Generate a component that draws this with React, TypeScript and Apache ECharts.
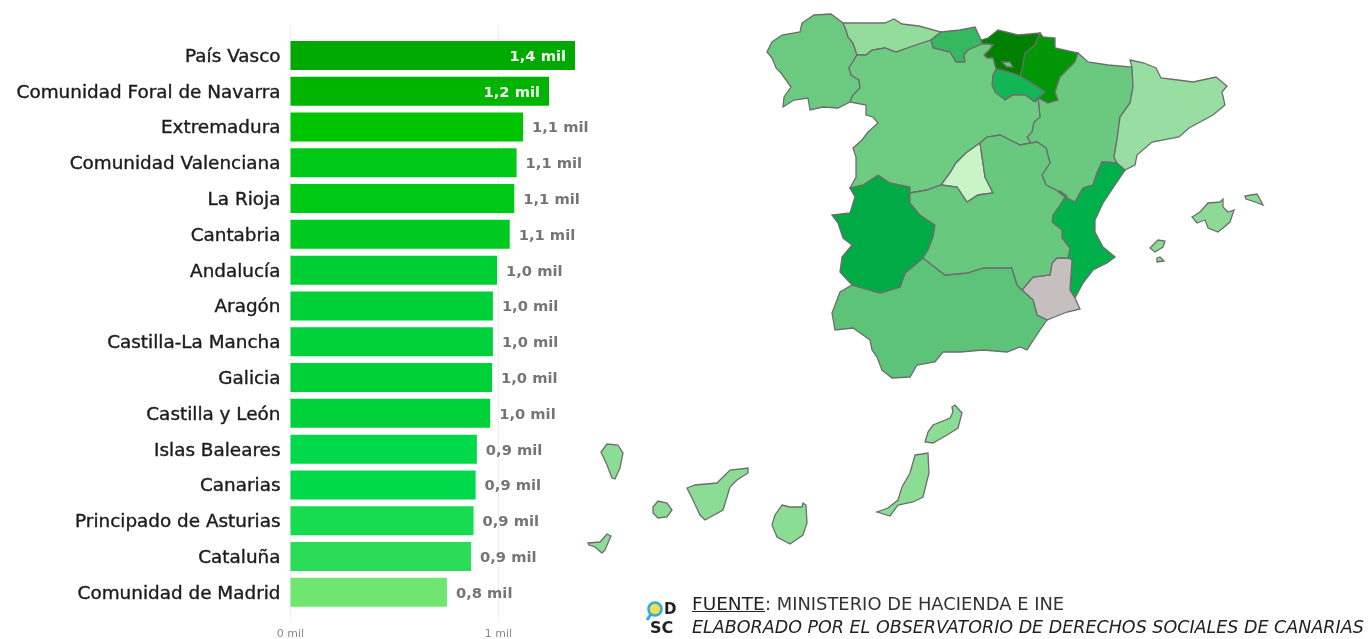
import React, { useEffect, useRef } from "react";
import * as echarts from "echarts";

const categories = ["País Vasco","Comunidad Foral de Navarra","Extremadura","Comunidad Valenciana","La Rioja","Cantabria","Andalucía","Aragón","Castilla-La Mancha","Galicia","Castilla y León","Islas Baleares","Canarias","Principado de Asturias","Cataluña","Comunidad de Madrid"];
const values = [1.368,1.243,1.118,1.087,1.076,1.054,0.993,0.973,0.973,0.969,0.96,0.896,0.89,0.88,0.868,0.752];
const barColors = ["#00a900","#00b400","#00c400","#00c818","#00c916","#00c920","#00cf34","#00d038","#00d03a","#00d038","#00d03a","#00d94a","#00d94a","#17dc52","#2adc57","#6ee670"];
const insideLabels = ["País Vasco","Comunidad Foral de Navarra"];
const axisTicks = [0, 1];

const mapColors: Record<string, string> = {
  "País Vasco":"#008000","Comunidad Foral de Navarra":"#009605","Extremadura":"#00aa44","Comunidad Valenciana":"#00b14b","La Rioja":"#14b554","Cantabria":"#35b85f","Andalucía":"#5cc378","Aragón":"#6ac97e","Castilla-La Mancha":"#68c97e","Galicia":"#6cca80","Castilla y León":"#6ecb82","Islas Baleares":"#8cda96","Canarias":"#8bdc95","Principado de Asturias":"#94dc9c","Cataluña":"#98dea2","Comunidad de Madrid":"#c9f4c6","Región de Murcia":"#c5bfbf",
};

type Ring = number[][];
const galicia: Ring = [[802,23],[814,15],[831,14],[843,23],[846,30],[848,37],[853,43],[857,55],[849,68],[851,75],[859,80],[860,88],[853,95],[850,102],[838,108],[823,107],[810,110],[808,98],[794,100],[783,107],[784,97],[791,87],[781,73],[776,68],[772,58],[767,52],[772,42],[782,35],[800,32]];
const asturias: Ring = [[843,23],[864,23],[885,23],[894,19],[902,24],[919,26],[941,32],[931,40],[916,45],[896,52],[885,48],[872,50],[866,55],[857,55],[853,43],[848,37],[846,30]];
const cantabria: Ring = [[941,32],[960,30],[975,27],[981,40],[982,44],[968,50],[964,55],[965,62],[956,62],[950,52],[933,48],[931,40]];
const paisVasco: Ring = [[981,40],[988,38],[998,30],[1018,35],[1040,33],[1035,45],[1025,53],[1022,70],[1020,76],[1005,71],[996,69],[993,58],[987,58],[984,55],[989,50],[993,45],[988,44],[982,44]];
const navarra: Ring = [[1040,33],[1043,37],[1055,38],[1055,48],[1078,53],[1075,62],[1060,77],[1055,92],[1058,100],[1048,103],[1038,98],[1045,92],[1035,85],[1020,76],[1022,70],[1025,53],[1035,45]];
const rioja: Ring = [[996,69],[1005,71],[1020,76],[1035,85],[1045,92],[1038,98],[1035,102],[1025,95],[1013,95],[1005,100],[995,92],[992,85],[993,75]];
const aragon: Ring = [[1038,98],[1048,103],[1058,100],[1055,92],[1060,77],[1075,62],[1078,53],[1088,62],[1108,65],[1132,67],[1133,87],[1130,103],[1120,117],[1117,140],[1114,157],[1117,163],[1102,162],[1097,173],[1093,185],[1083,188],[1075,202],[1065,197],[1056,190],[1046,185],[1042,175],[1050,163],[1046,148],[1037,142],[1031,143],[1027,137],[1032,132],[1034,122],[1040,117]];
const valencia: Ring = [[1102,162],[1117,163],[1125,170],[1113,188],[1103,203],[1095,220],[1095,232],[1103,247],[1115,257],[1107,263],[1093,270],[1083,283],[1075,298],[1070,290],[1072,260],[1068,258],[1070,248],[1062,238],[1062,230],[1052,222],[1053,215],[1060,205],[1065,197],[1075,202],[1083,188],[1093,185],[1097,173]];
const ademuz: Ring = [[1055,192],[1060,191],[1067,196],[1064,199],[1058,197]];
const murcia: Ring = [[1057,258],[1068,258],[1072,260],[1070,290],[1075,298],[1080,309],[1067,312],[1047,320],[1037,315],[1033,300],[1022,290],[1033,277],[1050,275],[1052,263]];
const andalucia: Ring = [[852,285],[870,290],[880,293],[900,287],[905,273],[923,258],[945,275],[967,273],[983,268],[1012,268],[1017,285],[1022,290],[1033,300],[1037,315],[1047,320],[1040,330],[1027,350],[1020,347],[1007,352],[983,350],[960,352],[943,352],[935,362],[917,365],[910,377],[892,378],[882,370],[877,357],[872,350],[870,340],[853,328],[835,330],[832,313],[840,292]];
const extremadura: Ring = [[878,175],[890,183],[910,187],[910,203],[920,215],[935,225],[933,237],[928,250],[923,258],[905,273],[900,287],[880,293],[870,290],[852,285],[840,272],[842,257],[852,245],[843,238],[838,223],[832,215],[850,213],[855,197],[850,188],[863,185]];
const cataluna: Ring = [[1130,60],[1144,63],[1156,68],[1161,78],[1178,80],[1193,82],[1216,77],[1227,86],[1222,92],[1225,105],[1213,115],[1189,128],[1179,137],[1152,142],[1137,155],[1135,165],[1125,170],[1117,163],[1114,157],[1117,140],[1120,117],[1130,103],[1133,87],[1132,67]];
const castillaLeon: Ring = [[857,55],[866,55],[872,50],[885,48],[896,52],[916,45],[931,40],[933,48],[950,52],[956,62],[965,62],[964,55],[968,50],[982,44],[988,44],[993,45],[989,50],[984,55],[987,58],[993,58],[996,69],[993,75],[992,85],[995,92],[1005,100],[1013,95],[1025,95],[1035,102],[1038,98],[1040,117],[1034,122],[1032,132],[1027,137],[1031,143],[1020,145],[1010,140],[1000,135],[987,137],[980,143],[966,153],[956,163],[950,173],[941,185],[927,190],[910,193],[910,187],[890,183],[878,175],[863,185],[850,188],[856,177],[856,157],[853,148],[862,140],[868,132],[878,123],[873,117],[866,115],[866,105],[850,102],[853,95],[860,88],[859,80],[851,75],[849,68]];
const trevino: Ring = [[1002,62],[1010,62],[1013,67],[1007,67]];
const madrid: Ring = [[980,143],[966,153],[956,163],[950,173],[941,185],[957,187],[967,202],[978,195],[993,193],[985,177],[983,163]];
const mancha: Ring = [[910,193],[927,190],[941,185],[957,187],[967,202],[978,195],[993,193],[985,177],[983,163],[980,143],[987,137],[1000,135],[1010,140],[1020,145],[1031,143],[1037,142],[1046,148],[1050,163],[1042,175],[1046,185],[1056,190],[1065,197],[1060,205],[1053,215],[1052,222],[1062,230],[1062,238],[1070,248],[1068,258],[1057,258],[1052,263],[1050,275],[1033,277],[1022,290],[1017,285],[1012,268],[983,268],[967,273],[945,275],[923,258],[928,250],[933,237],[935,225],[920,215],[910,203]];
const mallorca: Ring = [[1192,217],[1200,212],[1208,203],[1220,202],[1223,199],[1223,207],[1228,212],[1234,210],[1230,222],[1223,228],[1218,232],[1208,228],[1205,220],[1197,223]];
const menorca: Ring = [[1245,196],[1257,194],[1263,205],[1255,202],[1246,199]];
const ibiza: Ring = [[1150,248],[1158,240],[1165,241],[1163,247],[1155,252]];
const formentera: Ring = [[1157,258],[1160,257],[1164,261],[1157,262]];
const laPalma: Ring = [[601,452],[607,444],[618,445],[623,453],[620,468],[615,479],[612,478],[607,465]];
const elHierro: Ring = [[588,543],[600,542],[607,534],[611,536],[605,550],[602,553],[595,547],[589,545]];
const gomera: Ring = [[653,507],[658,501],[667,503],[672,510],[667,517],[658,518],[653,513]];
const tenerife: Ring = [[687,488],[695,485],[717,483],[723,477],[730,470],[748,468],[748,473],[737,480],[730,487],[727,497],[723,510],[705,520],[700,515],[692,498]];
const granCanaria: Ring = [[782,505],[790,507],[802,507],[803,503],[806,505],[807,523],[803,535],[790,544],[777,537],[772,525],[775,515]];
const fuerteventura: Ring = [[915,455],[928,453],[929,473],[923,497],[913,502],[898,505],[890,516],[877,512],[888,508],[898,500],[902,487],[910,473]];
const lanzarote: Ring = [[925,442],[928,432],[933,425],[950,418],[953,412],[952,407],[955,405],[962,413],[958,428],[947,435],[933,443]];

const shapes: [string, Ring[]][] = [
  ["Galicia",[galicia]],["Principado de Asturias",[asturias]],["Cantabria",[cantabria]],["País Vasco",[paisVasco]],
  ["Comunidad Foral de Navarra",[navarra]],["La Rioja",[rioja]],["Aragón",[aragon]],["Comunidad Valenciana",[valencia,ademuz]],
  ["Región de Murcia",[murcia]],["Andalucía",[andalucia]],["Extremadura",[extremadura]],["Cataluña",[cataluna]],
  ["Castilla y León",[castillaLeon,trevino]],["Comunidad de Madrid",[madrid]],["Castilla-La Mancha",[mancha]],
  ["Islas Baleares",[mallorca,menorca,ibiza,formentera]],
  ["Canarias",[laPalma,elHierro,gomera,tenerife,granCanaria,fuerteventura,lanzarote]],
];

const AXIS_LEFT = 290.5;
const PX_PER_UNIT = 208;
const AXIS_MAX = 1.5;
const fontFamily = "'DejaVu Sans', sans-serif";

export default function App() {
  const ref = useRef<HTMLDivElement>(null);
  useEffect(() => {
    if (!ref.current) return;
    const features = shapes.map(([name, rings]) => ({
      type: "Feature",
      properties: { name },
      geometry: {
        type: "MultiPolygon",
        coordinates: rings.map((r) => [[...r, r[0]].map(([x, y]) => [x, -y])]),
      },
    }));
    echarts.registerMap("spainRegions", { type: "FeatureCollection", features } as any);
    const all = shapes.flatMap(([, rings]) => rings.flat());
    const xs = all.map((p) => p[0]);
    const ys = all.map((p) => p[1]);
    const minX = Math.min(...xs), maxX = Math.max(...xs), minY = Math.min(...ys), maxY = Math.max(...ys);

    const chart = echarts.init(ref.current, undefined, { renderer: "svg" });
    const gridWidth = PX_PER_UNIT * AXIS_MAX;
    chart.setOption({
      animation: false,
      backgroundColor: "#ffffff",
      grid: [
        { left: AXIS_LEFT, width: gridWidth, top: 37.5, height: 572.7 },
        { left: AXIS_LEFT, width: gridWidth, top: 27, height: 593 },
      ],
      xAxis: [
        { gridIndex: 0, type: "value", min: 0, max: AXIS_MAX, show: false },
        {
          gridIndex: 1, type: "value", min: 0, max: AXIS_MAX, interval: axisTicks[1] - axisTicks[0],
          axisLine: { show: false }, axisTick: { show: false },
          axisLabel: { showMaxLabel: false, formatter: "{value} mil", color: "#8a8a8a", fontSize: 11, fontFamily, margin: 8 },
          splitLine: { show: true, showMaxLine: false, lineStyle: { color: "#e2e2e2", type: "dotted", width: 1 } },
        },
      ],
      yAxis: [
        {
          gridIndex: 0, type: "category", data: categories, inverse: true,
          axisLine: { show: false }, axisTick: { show: false },
          axisLabel: { color: "#1c1c1c", fontSize: 18.4, fontFamily, margin: 10, textBorderColor: "#1c1c1c", textBorderWidth: 0.4 },
        },
        { gridIndex: 1, type: "value", show: false, min: 0, max: 1 },
      ],
      series: [
        {
          type: "bar", xAxisIndex: 0, yAxisIndex: 0, barWidth: 29, z: 3,
          data: values.map((v, i) => {
            const inside = insideLabels.includes(categories[i]);
            return {
              value: v,
              itemStyle: { color: barColors[i] },
              label: { position: inside ? "insideRight" : "right", color: inside ? "#f2fff2" : "#757575" },
            };
          }),
          label: {
            show: true, distance: 9, fontSize: 14.7, fontWeight: "bold", fontFamily,
            formatter: (p: any) => p.value.toFixed(1).replace(".", ",") + " mil",
          },
          silent: true,
        },
        {
          type: "map", map: "spainRegions", aspectScale: 1, roam: false, silent: true,
          left: minX, top: minY, width: maxX - minX, height: maxY - minY,
          label: { show: false }, emphasis: { disabled: true }, select: { disabled: true },
          itemStyle: { borderColor: "#6d6d6d", borderWidth: 1.3 },
          data: Object.entries(mapColors).map(([name, color]) => ({
            name,
            value: values[categories.indexOf(name)],
            itemStyle: { areaColor: color },
          })),
        },
      ],
      graphic: [
        { type: "circle", shape: { cx: 655, cy: 609, r: 6.5 }, style: { fill: "#f4e04d", stroke: "#35a9e0", lineWidth: 2.5 } },
        { type: "line", shape: { x1: 651, y1: 614, x2: 647, y2: 620 }, style: { stroke: "#35a9e0", lineWidth: 3 } },
        { type: "text", x: 664, y: 609, style: { text: "D", fill: "#222222", font: "bold 15px " + fontFamily, align: "left", verticalAlign: "middle" } },
        { type: "text", x: 650, y: 627, style: { text: "SC", fill: "#222222", font: "bold 16px " + fontFamily, align: "left", verticalAlign: "middle" } },
        {
          type: "text", x: 692, y: 603,
          style: { text: "FUENTE", fill: "#222222", font: "18.5px " + fontFamily, align: "left", verticalAlign: "middle" },
        },
        {
          type: "text", x: 765, y: 603,
          style: { text: ": MINISTERIO DE HACIENDA E INE", fill: "#333333", font: "17.9px " + fontFamily, align: "left", verticalAlign: "middle" },
        },
        { type: "line", shape: { x1: 692, y1: 611.5, x2: 765, y2: 611.5 }, style: { stroke: "#222222", lineWidth: 1 } },
        {
          type: "text", x: 692, y: 627,
          style: { text: "ELABORADO POR EL OBSERVATORIO DE DERECHOS SOCIALES DE CANARIAS", fill: "#222222", font: "italic 17.5px " + fontFamily, align: "left", verticalAlign: "middle" },
        },
      ],
    });
    return () => chart.dispose();
  }, []);
  return <div ref={ref} style={{ position: "absolute", left: 0, top: 0, width: 1369, height: 639, filter: "blur(0.5px)" }} />;
}
